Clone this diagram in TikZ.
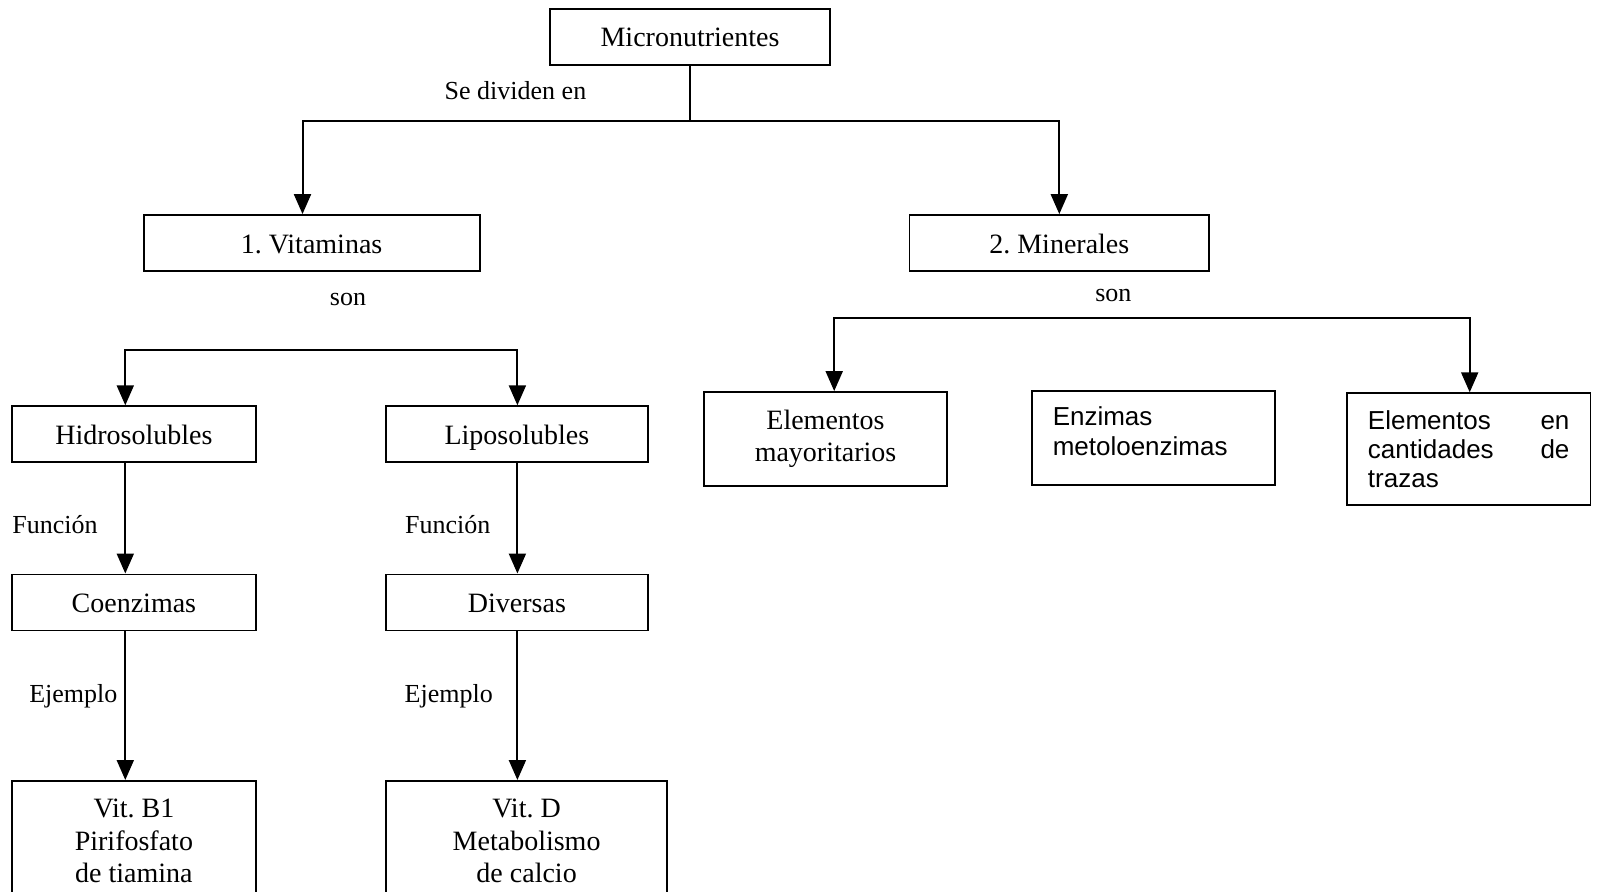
\documentclass[tikz,border=0pt]{standalone}
\usepackage{fontspec}
\setmainfont{Liberation Serif}
\newfontfamily\plainsans{Liberation Sans}
\usetikzlibrary{arrows.meta}
\frenchspacing
\tikzset{
  box/.style={draw,line width=1.8pt,minimum height=56pt,inner sep=0pt,
    font=\fontsize{28}{32.6}\selectfont},
  oneline/.style={box,text height=20pt,text depth=0pt},
  sansbox/.style={draw,line width=1.8pt,inner xsep=21pt,inner ysep=0pt,
    text width=201.5pt,align=left,font=\plainsans\fontsize{26}{29.4}\selectfont},
  lbl/.style={inner sep=0pt,anchor=base,font=\fontsize{26}{30}\selectfont},
  ln/.style={line width=2pt},
  arr/.style={line width=2pt,-{Triangle[length=20pt,width=17pt]}},
  arr2/.style={line width=2pt,{Triangle[length=20pt,width=17pt]}-{Triangle[length=20pt,width=17pt]}},
}
\begin{document}
\begin{tikzpicture}[x=1pt,y=-1pt]
\useasboundingbox (0,0) rectangle (1597,891);
\clip (0,0) rectangle (1597,891);

% columns and rails of the connectors
\coordinate (colV) at (302.5,0);
\coordinate (colM) at (1059.3,0);
\coordinate (colH) at (125.3,0);
\coordinate (colL) at (517.4,0);
\coordinate (colE) at (834.2,0);
\coordinate (colT) at (1469.7,0);
\coordinate (railTop) at (0,121);
\coordinate (railVit) at (0,350.4);
\coordinate (railMin) at (0,317.8);

% boxes
\node[oneline,minimum width=280pt] (micro) at (690,37) {Micronutrientes};
\node[oneline,minimum width=336pt] (vit) at (311.6,243) {1. Vitaminas};
\node[oneline,minimum width=299.5pt] (min) at (1059.3,243) {2. Minerales};
\node[oneline,minimum width=243.4pt] (hidro) at (133.9,434.2) {Hidrosolubles};
\node[oneline,minimum width=261.8pt] (lipo) at (516.9,434.2) {Liposolubles};
\node[oneline,minimum width=243.4pt] (coenz) at (133.9,602.4) {Coenzimas};
\node[oneline,minimum width=261.8pt] (divers) at (516.9,602.4) {Diversas};
\node[box,anchor=north,minimum width=243.4pt,inner ysep=18pt,text depth=90pt,align=center]
  (vitb) at (133.9,780) {Vit. B1\\Pirifosfato\\de tiamina};
\node[box,anchor=north,minimum width=281.1pt,inner ysep=18pt,text depth=90pt,align=center]
  (vitd) at (526.6,780) {Vit. D\\Metabolismo\\de calcio};
\node[box,minimum width=243.4pt,minimum height=93.8pt,align=center]
  (elmay) at (825.5,438.9) {Elementos\\mayoritarios};
\node[sansbox,minimum height=93.8pt,text height=18.6pt,text depth=43pt]
  (enz) at (1153.5,437.9) {Enzimas\\metoloenzimas};
\node[sansbox,minimum height=112pt] (traz) at (1468.7,449.2)
  {Elementos\hfill en\\cantidades\hfill de\\trazas};

% labels on the connectors
\node[lbl] (l1) at (515.5,99.3) {Se dividen en};
\node[lbl] (l2) at (348,305.7) {son};
\node[lbl] (l3) at (1113.3,301) {son};
\node[lbl] (l4) at (55,533.3) {Función};
\node[lbl] (l5) at (447.7,533.3) {Función};
\node[lbl] (l6) at (73.3,702.3) {Ejemplo};
\node[lbl] (l7) at (448.7,702.3) {Ejemplo};

% connectors
\draw[ln] (micro.south) -- (micro.south |- railTop);
\draw[arr2] (vit.north -| colV) -- (colV |- railTop) -- (colM |- railTop) -- (min.north -| colM);
\draw[arr2] (hidro.north -| colH) -- (colH |- railVit) -- (colL |- railVit) -- (lipo.north -| colL);
\draw[arr2] (elmay.north -| colE) -- (colE |- railMin) -- (colT |- railMin) -- (traz.north -| colT);
\draw[arr] (hidro.south -| colH) -- (coenz.north -| colH);
\draw[arr] (lipo.south -| colL) -- (divers.north -| colL);
\draw[arr] (coenz.south -| colH) -- (vitb.north -| colH);
\draw[arr] (divers.south -| colL) -- (vitd.north -| colL);
\end{tikzpicture}
\end{document}
